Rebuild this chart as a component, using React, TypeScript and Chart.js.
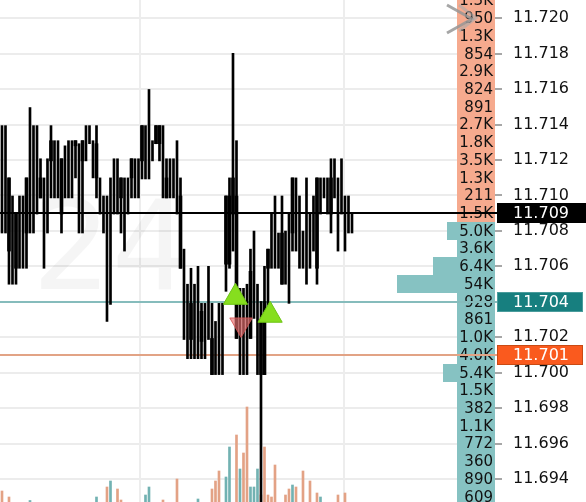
import React, { useEffect, useRef } from 'react';
import { Chart, registerables } from 'chart.js';

Chart.register(...registerables);

// ---- candle data (index = bar number) ----
const highs = [
  11.71394, 11.71394, 11.71099, 11.70997, 11.70895, 11.70997, 11.70997, 11.71099, 11.71496, 11.71394,
  11.71394, 11.71207, 11.71099, 11.71207, 11.71394, 11.71309, 11.71309, 11.71207, 11.7128, 11.71309,
  11.71309, 11.71309, 11.71292, 11.71309, 11.71394, 11.71394, 11.71309, 11.71394, 11.71099, 11.70997,
  11.70997, 11.71099, 11.71207, 11.71207, 11.71099, 11.71099, 11.71099, 11.71207, 11.71207, 11.71207,
  11.71394, 11.71394, 11.71598, 11.71309, 11.71394, 11.71394, 11.71394, 11.71207, 11.71207, 11.71207,
  11.71309, 11.71099, 11.70697, 11.70499, 11.70589, 11.70499, 11.706, 11.70391, 11.70391, 11.706,
  11.70391, 11.70289, 11.70391, 11.70391, 11.70997, 11.71099, 11.71802, 11.71309, 11.70476, 11.70476,
  11.70499, 11.70697, 11.70799, 11.70499, 11.70402, 11.706, 11.70697, 11.70895, 11.70997, 11.70788,
  11.70997, 11.70799, 11.70895, 11.71099, 11.71099, 11.70997, 11.70799, 11.71099, 11.70895, 11.70997,
  11.71099, 11.71099, 11.71099, 11.71099, 11.71207, 11.71207, 11.71099, 11.71207, 11.70997, 11.70997,
  11.70895,
];
const lows = [
  11.70788, 11.70788, 11.70499, 11.70499, 11.70499, 11.70589, 11.70589, 11.70589, 11.70788, 11.70788,
  11.70895, 11.70986, 11.70589, 11.70788, 11.70986, 11.70986, 11.70986, 11.70788, 11.70986, 11.70986,
  11.70986, 11.71099, 11.70788, 11.70788, 11.71195, 11.71292, 11.71099, 11.70986, 11.70895, 11.70788,
  11.70289, 11.70385, 11.70895, 11.70895, 11.70788, 11.70686, 11.70895, 11.70986, 11.70986, 11.70986,
  11.71093, 11.71093, 11.71093, 11.71195, 11.71292, 11.71195, 11.70986, 11.70986, 11.70986, 11.70986,
  11.70895, 11.70589, 11.70187, 11.70079, 11.70079, 11.70079, 11.70079, 11.70079, 11.70079, 11.70187,
  11.69989, 11.69989, 11.69989, 11.69989, 11.70459, 11.70589, 11.70686, 11.70193, 11.69989, 11.69989,
  11.69989, 11.70193, 11.70306, 11.69989, 11.69212, 11.69989, 11.70306, 11.70589, 11.70589, 11.70589,
  11.70499, 11.70499, 11.70391, 11.70686, 11.70686, 11.70589, 11.70589, 11.70499, 11.70589, 11.70686,
  11.70499, 11.70895, 11.70986, 11.70895, 11.70788, 11.70986, 11.70686, 11.70895, 11.70686, 11.70788,
  11.70788,
];
const opens = [
  11.70969, 11.71054, 11.71099, 11.70799, 11.70895, 11.70799, 11.70895, 11.70788, 11.70969, 11.71054,
  11.71082, 11.70986, 11.70895, 11.70969, 11.71195, 11.71195, 11.71099, 11.71207, 11.71099, 11.71195,
  11.71054, 11.7128, 11.70969, 11.71195, 11.71252, 11.71309, 11.71195, 11.71099, 11.70997, 11.70895,
  11.70799, 11.70895, 11.71054, 11.70997, 11.70986, 11.70895, 11.70997, 11.71099, 11.71099, 11.71054,
  11.71195, 11.71252, 11.71309, 11.71252, 11.71292, 11.71394, 11.71195, 11.71099, 11.71099, 11.71054,
  11.70997, 11.70997, 11.70499, 11.70289, 11.70391, 11.70289, 11.70346, 11.70176, 11.70193, 11.70391,
  11.70193, 11.70079, 11.70193, 11.70079, 11.70612, 11.70997, 11.70895, 11.70997, 11.70193, 11.70079,
  11.70289, 11.70193, 11.70499, 11.70193, 11.70289, 11.69989, 11.70589, 11.70799, 11.70686, 11.70686,
  11.70788, 11.70686, 11.70589, 11.70788, 11.70895, 11.70799, 11.70686, 11.70799, 11.70686, 11.70895,
  11.70589, 11.70997, 11.71054, 11.70997, 11.70895, 11.71099, 11.70895, 11.71054, 11.70895, 11.70895,
  11.70895,
];
const closes = [
  11.70969, 11.71054, 11.70686, 11.70799, 11.70589, 11.70799, 11.70895, 11.71099, 11.70969, 11.71054,
  11.71082, 11.71099, 11.70895, 11.70969, 11.71309, 11.71195, 11.71099, 11.70895, 11.71099, 11.71195,
  11.71054, 11.71309, 11.70969, 11.71309, 11.71252, 11.71309, 11.71195, 11.71292, 11.70997, 11.70895,
  11.70799, 11.70895, 11.71054, 11.70997, 11.71099, 11.70895, 11.70997, 11.71207, 11.71099, 11.71054,
  11.71394, 11.71252, 11.71309, 11.71252, 11.71394, 11.71292, 11.71195, 11.70986, 11.71099, 11.71054,
  11.70997, 11.70589, 11.70499, 11.70289, 11.70187, 11.70289, 11.70346, 11.70346, 11.70193, 11.70391,
  11.69989, 11.70079, 11.70193, 11.70079, 11.70997, 11.70612, 11.71099, 11.70193, 11.70193, 11.70079,
  11.70289, 11.70572, 11.70499, 11.70193, 11.69989, 11.70402, 11.70697, 11.70799, 11.70686, 11.70686,
  11.70499, 11.70686, 11.70589, 11.71099, 11.70895, 11.70799, 11.70686, 11.70799, 11.70686, 11.70895,
  11.71099, 11.70997, 11.71054, 11.70997, 11.71099, 11.71099, 11.70895, 11.71054, 11.70895, 11.70895,
  11.70895,
];

// ---- volume per bar ----
const volSell = [
  110, 0, 50, 0, 0, 0, 0, 0, 0, 0,
  0, 0, 0, 0, 0, 0, 0, 0, 0, 0,
  0, 0, 0, 0, 0, 0, 0, 0, 0, 0,
  150, 0, 0, 130, 20, 0, 0, 0, 0, 0,
  0, 0, 0, 0, 0, 0, 20, 0, 0, 0,
  230, 0, 0, 0, 0, 0, 0, 0, 0, 0,
  130, 210, 310, 0, 0, 0, 0, 670, 0, 490,
  950, 0, 0, 0, 70, 550, 70, 50, 370, 0,
  0, 70, 130, 0, 150, 0, 310, 0, 210, 0,
  90, 0, 0, 0, 0, 0, 70, 0, 90, 0,
  0,
];
const volBuy = [
  0, 0, 0, 0, 0, 0, 0, 0, 15, 0,
  0, 0, 0, 0, 0, 0, 0, 0, 0, 0,
  0, 0, 0, 0, 0, 0, 0, 50, 0, 0,
  0, 210, 0, 0, 0, 0, 0, 0, 0, 0,
  0, 70, 150, 0, 0, 0, 0, 0, 0, 0,
  0, 0, 0, 0, 0, 0, 30, 0, 0, 0,
  0, 0, 0, 0, 250, 550, 0, 0, 330, 0,
  0, 150, 150, 330, 0, 0, 0, 0, 0, 0,
  0, 0, 0, 170, 0, 0, 0, 0, 0, 0,
  0, 50, 0, 0, 0, 0, 0, 0, 0, 0,
  0,
];

// ---- axis / levels ----
const yTicks = [11.694, 11.696, 11.698, 11.7, 11.702, 11.704, 11.706, 11.708, 11.71, 11.712, 11.714, 11.716, 11.718, 11.72];
const priceMin = 11.6927;
const priceMax = 11.72103;
const barMin = -0.57;
const barMax = 140.86;
const sessionBreaks = [39.4, 97.7];
const currentPrice = 11.709;
const tealLevel = 11.704;
const orangeLevel = 11.701;

// ---- volume profile ----
const profilePrices = [
  11.721, 11.72, 11.719, 11.718, 11.717, 11.716, 11.715, 11.714, 11.713, 11.712,
  11.711, 11.71, 11.709, 11.708, 11.707, 11.706, 11.705, 11.704, 11.703, 11.702,
  11.701, 11.7, 11.699, 11.698, 11.697, 11.696, 11.695, 11.694, 11.693,
];
const profileVolumes = [
  1300, 950, 1300, 854, 2900, 824, 891, 2700, 1800, 3500,
  1300, 211, 1500, 5000, 3600, 6400, 54000, 928, 861, 1000,
  4000, 5400, 1500, 382, 1100, 772, 360, 890, 609,
];

// ---- signals ----
const buySignals = [
  { x: 66.7, y: 11.70425 },
  { x: 76.6, y: 11.70324 },
];
const sellSignals = [{ x: 68.3, y: 11.70272 }];

const FONT = '"DejaVu Sans", sans-serif';

function fmtVol(v: number): string {
  if (v >= 10000) return Math.round(v / 1000) + 'K';
  if (v >= 1000) return (v / 1000).toFixed(1) + 'K';
  return String(v);
}

const overlayPlugin = {
  id: 'overlay',
  beforeDatasetsDraw(chart: any) {
    const { ctx, chartArea, scales } = chart;
    const y = scales.y;
    const x = scales.x;
    ctx.save();
    // session separators
    ctx.strokeStyle = '#ededed';
    ctx.lineWidth = 2;
    sessionBreaks.forEach((v) => {
      const px = Math.round(x.getPixelForValue(v));
      ctx.beginPath();
      ctx.moveTo(px, chartArea.top);
      ctx.lineTo(px, chartArea.bottom);
      ctx.stroke();
    });
    // watermark
    ctx.fillStyle = 'rgba(0,0,0,0.04)';
    ctx.font = '125px ' + FONT;
    ctx.textBaseline = 'alphabetic';
    ctx.textAlign = 'left';
    ctx.fillText('24', 32, 289);

    // volume profile
    const right = chartArea.right;
    profilePrices.forEach((p, k) => {
      const top = Math.round(y.getPixelForValue(p + 0.0005));
      const bot = Math.round(y.getPixelForValue(p - 0.0005));
      const w = Math.max(38, Math.min(98, profileVolumes[k] / 100 - 2));
      ctx.fillStyle = p >= currentPrice ? '#f6aa8e' : '#86c2c2';
      ctx.fillRect(right - w, top, w, bot - top);
    });
    ctx.fillStyle = '#111';
    ctx.font = '15px ' + FONT;
    ctx.textAlign = 'right';
    ctx.textBaseline = 'middle';
    profilePrices.forEach((p, k) => {
      ctx.fillText(fmtVol(profileVolumes[k]), right - 2, y.getPixelForValue(p) + 1);
    });

    // level lines
    const lineTo = right + 2;
    const drawLevel = (p: number, color: string) => {
      const py = Math.round(y.getPixelForValue(p));
      ctx.strokeStyle = color;
      ctx.lineWidth = 2;
      ctx.beginPath();
      ctx.moveTo(chartArea.left, py);
      ctx.lineTo(lineTo, py);
      ctx.stroke();
    };
    drawLevel(tealLevel, '#86bcbc');
    drawLevel(orangeLevel, '#e2a385');
    drawLevel(currentPrice, '#000');
    ctx.restore();
  },
  afterDatasetsDraw(chart: any) {
    const { ctx, chartArea, scales } = chart;
    const y = scales.y;
    ctx.save();
    const boxLeft = chartArea.right + 2;
    const drawBox = (p: number, bg: string, border: string | null, w: number) => {
      const py = y.getPixelForValue(p);
      ctx.fillStyle = bg;
      ctx.fillRect(boxLeft, Math.round(py - 10), w, 20);
      if (border) {
        ctx.strokeStyle = border;
        ctx.lineWidth = 1;
        ctx.strokeRect(boxLeft + 0.5, Math.round(py - 10) + 0.5, w - 1, 19);
      }
      ctx.fillStyle = '#fff';
      ctx.font = '16px ' + FONT;
      ctx.textAlign = 'left';
      ctx.textBaseline = 'middle';
      ctx.fillText(p.toFixed(3), chartArea.right + 18, py + 1);
    };
    drawBox(currentPrice, '#000', null, 92);
    drawBox(tealLevel, '#177f7f', '#4a9c9c', 86);
    drawBox(orangeLevel, '#fa5a1e', '#c94a14', 86);

    // close icon
    ctx.strokeStyle = 'rgba(150,150,150,0.85)';
    ctx.lineWidth = 3;
    ctx.beginPath();
    ctx.moveTo(447, 5);
    ctx.lineTo(472, 19);
    ctx.lineTo(447, 33);
    ctx.stroke();
    ctx.strokeStyle = 'rgba(170,170,170,0.6)';
    ctx.beginPath();
    ctx.moveTo(459, 5);
    ctx.lineTo(476, 18);
    ctx.lineTo(459, 31);
    ctx.stroke();
    ctx.restore();
  },
};

export default function App() {
  const ref = useRef<HTMLCanvasElement | null>(null);
  useEffect(() => {
    const canvas = ref.current;
    if (!canvas) return;
    const idx = highs.map((_, i) => i);
    const wickData = idx.map((i) => ({ x: i, y: [lows[i], highs[i]] }));
    const bodyData = idx.map((i) =>
      opens[i] === closes[i] ? { x: i, y: null } : { x: i, y: [Math.min(opens[i], closes[i]), Math.max(opens[i], closes[i])] }
    );
    const sellData = idx.map((i) => ({ x: i, y: volSell[i] ? volSell[i] : null }));
    const buyData = idx.map((i) => ({ x: i, y: volBuy[i] ? volBuy[i] : null }));

    const chart = new Chart(canvas, {
      type: 'bar',
      data: {
        datasets: [
          {
            type: 'scatter',
            data: buySignals,
            xAxisID: 'x',
            yAxisID: 'y',
            pointStyle: 'triangle',
            pointRadius: 14,
            backgroundColor: '#86de1e',
            borderColor: '#6cc414',
            borderWidth: 1,
            order: 0,
          } as any,
          {
            type: 'scatter',
            data: sellSignals,
            xAxisID: 'x',
            yAxisID: 'y',
            pointStyle: 'triangle',
            rotation: 180,
            pointRadius: 13,
            backgroundColor: 'rgba(232,110,110,0.65)',
            borderColor: 'rgba(214,80,80,0.8)',
            borderWidth: 1,
            order: 0,
          } as any,
          {
            type: 'bar',
            data: bodyData,
            xAxisID: 'x',
            yAxisID: 'y',
            backgroundColor: '#000',
            barThickness: 3,
            grouped: false,
            order: 1,
          } as any,
          {
            type: 'bar',
            data: wickData,
            xAxisID: 'x',
            yAxisID: 'y',
            backgroundColor: '#000',
            barThickness: 2,
            grouped: false,
            order: 2,
          } as any,
          {
            type: 'bar',
            data: sellData,
            xAxisID: 'x',
            yAxisID: 'yVol',
            backgroundColor: '#e3a285',
            barThickness: 2,
            grouped: false,
            order: 3,
          } as any,
          {
            type: 'bar',
            data: buyData,
            xAxisID: 'x',
            yAxisID: 'yVol',
            backgroundColor: '#72b2b2',
            barThickness: 2,
            grouped: false,
            order: 3,
          } as any,
        ],
      },
      options: {
        animation: false,
        responsive: false,
        events: [],
        layout: { padding: 0, autoPadding: false },
        plugins: { legend: { display: false }, tooltip: { enabled: false } },
        scales: {
          x: { type: 'linear', min: barMin, max: barMax, display: false, offset: false },
          y: {
            type: 'linear',
            position: 'right',
            min: priceMin,
            max: priceMax,
            border: { display: false },
            grid: { color: '#ececec', lineWidth: 2, tickLength: 7, tickColor: '#8a8a8a', tickWidth: 1.5 },
            ticks: {
              padding: 11,
              color: '#111',
              font: { family: FONT, size: 16 },
              callback: (v: any) => Number(v).toFixed(3),
            },
            afterBuildTicks: (scale: any) => {
              scale.ticks = yTicks.map((v) => ({ value: v }));
            },
            afterFit: (scale: any) => {
              scale.width = 91;
              scale.paddingTop = 0;
              scale.paddingBottom = 0;
            },
          } as any,
          yVol: { type: 'linear', min: 0, max: 5020, display: false },
        },
      } as any,
      plugins: [overlayPlugin],
    });
    return () => chart.destroy();
  }, []);

  return (
    <div style={{ position: 'fixed', left: 0, top: 0, width: 586, height: 502, background: '#fff' }}>
      <canvas ref={ref} width={586} height={502} style={{ display: 'block' }} />
    </div>
  );
}
